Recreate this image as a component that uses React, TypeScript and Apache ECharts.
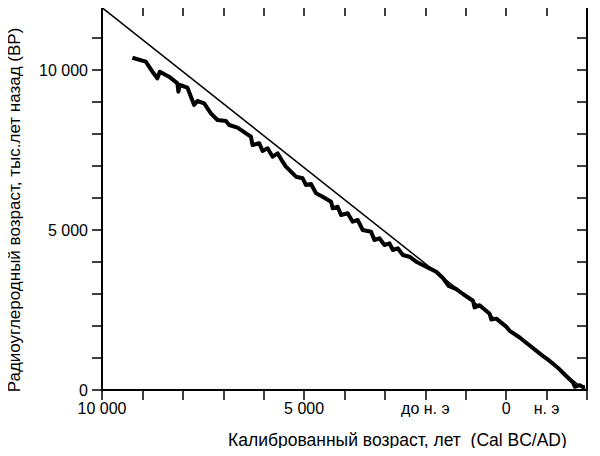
import React, { useEffect, useRef } from "react";
import * as echarts from "echarts";

// Calibration curve: calendar age (years BC, negative = AD) vs radiocarbon age (BP)
const calYearsBC = [
  9248, 8917, 8753, 8630, 8570, 8340, 8134, 8110, 8077, 7886, 7720, 7638, 7472, 7306, 7142,
  6934, 6853, 6647, 6439, 6315, 6275, 6109, 6027, 5903, 5779, 5655, 5531, 5449, 5325, 5200,
  5036, 4952, 4828, 4704, 4540, 4332, 4293, 4169, 4086, 3921, 3797, 3673, 3549, 3343, 3260,
  3136, 3011, 2887, 2805, 2681, 2557, 2392, 2227, 1979, 1896, 1731, 1566, 1420, 1234, 1070,
  822, 781, 657, 409, 367, 243, 0, -86, -334, -582, -912, -1036, -1160, -1284, -1491,
  -1656, -1698, -1822, -1904, -1950,
];
const radiocarbonBP = [
  10384, 10260, 9947, 9740, 9947, 9791, 9584, 9322, 9531, 9447, 8906, 9031, 8959, 8647, 8437,
  8406, 8281, 8197, 8022, 7916, 7656, 7709, 7469, 7553, 7291, 7397, 7134, 6978, 6822, 6666,
  6616, 6406, 6437, 6147, 6041, 5884, 5678, 5728, 5469, 5522, 5259, 5312, 5000, 4947, 4687,
  4740, 4531, 4584, 4375, 4428, 4219, 4166, 4009, 3853, 3802, 3697, 3500, 3250, 3150, 3000,
  2790, 2580, 2650, 2380, 2200, 2230, 1980, 1850, 1640, 1390, 1060, 950, 820, 690, 430,
  230, 100, 150, 90, 100,
];

// Reference 1:1 line (BP = BC + 1950)
const refLineX = [10000, -1950];
const refLineY = [11950, 0];

// Tick labels
const xTickLabels: Record<string, string> = {
  "10000": "10 000",
  "5000": "5 000",
  "2000": "до н. э",
  "0": "0",
  "-1000": "н. э",
};
const yTickLabels: Record<string, string> = {
  "0": "0",
  "5000": "5 000",
  "10000": "10 000",
};

const xTitle = "Калиброванный возраст, лет  (Cal BC/AD)";
const yTitle = "Радиоуглеродный возраст, тыс.лет назад (ВР)";

const FONT = "'Liberation Sans', Arial, sans-serif";

export default function App() {
  const ref = useRef<HTMLDivElement>(null);
  useEffect(() => {
    if (!ref.current) return;
    const chart = echarts.init(ref.current, null, { renderer: "svg" });
    const axisLine = { show: true, onZero: false, lineStyle: { color: "#000", width: 2 } };
    const tickStyle = { color: "#000", width: 1.5 };
    chart.setOption({
      animation: false,
      backgroundColor: "#fff",
      grid: { left: 102, right: 13, top: 6, bottom: 66, containLabel: false },
      xAxis: [
        {
          type: "value",
          position: "bottom",
          min: -2000,
          max: 10000,
          interval: 1000,
          inverse: true,
          axisLine,
          axisTick: { show: true, inside: false, length: 10, lineStyle: tickStyle },
          splitLine: { show: false },
          axisLabel: {
            show: true,
            margin: 10,
            color: "#000",
            fontSize: 16,
            fontFamily: FONT,
            formatter: (v: number) => xTickLabels[String(v)] ?? "",
          },
        },
        {
          type: "value",
          position: "top",
          min: -2000,
          max: 10000,
          interval: 1000,
          inverse: true,
          axisLine,
          axisTick: { show: true, inside: true, length: 10, lineStyle: tickStyle },
          splitLine: { show: false },
          axisLabel: { show: false },
        },
      ],
      yAxis: [
        {
          type: "value",
          position: "left",
          min: 0,
          max: 12000,
          interval: 1000,
          axisLine,
          axisTick: { show: true, inside: false, length: 10, lineStyle: tickStyle },
          splitLine: { show: false },
          axisLabel: {
            show: true,
            margin: 14,
            color: "#000",
            fontSize: 16,
            fontFamily: FONT,
            formatter: (v: number) => yTickLabels[String(v)] ?? "",
          },
        },
        {
          type: "value",
          position: "right",
          min: 0,
          max: 12000,
          interval: 1000,
          axisLine,
          axisTick: { show: true, inside: true, length: 10, lineStyle: tickStyle },
          splitLine: { show: false },
          axisLabel: { show: false },
        },
      ],
      series: [
        {
          type: "line",
          name: "1:1",
          xAxisIndex: 0,
          yAxisIndex: 0,
          data: refLineX.map((x, i) => [x, refLineY[i]]),
          showSymbol: false,
          symbol: "none",
          lineStyle: { color: "#000", width: 1.5 },
          silent: true,
          clip: true,
        },
        {
          type: "line",
          name: "calibration",
          xAxisIndex: 0,
          yAxisIndex: 0,
          data: calYearsBC.map((x, i) => [x, radiocarbonBP[i]]),
          showSymbol: false,
          symbol: "none",
          lineStyle: { color: "#000", width: 4, join: "round" },
          silent: true,
          clip: true,
        },
      ],
      graphic: [
        {
          type: "text",
          left: 228,
          top: 431,
          style: { text: xTitle, fill: "#000", font: `17.5px ${FONT}` },
        },
        {
          type: "text",
          x: 14,
          y: 210,
          rotation: Math.PI / 2,
          style: {
            text: yTitle,
            fill: "#000",
            font: `17px ${FONT}`,
            align: "center",
            verticalAlign: "middle",
          },
        },
      ],
    });
    return () => chart.dispose();
  }, []);
  return <div ref={ref} style={{ width: 600, height: 456, margin: -8 }} />;
}
